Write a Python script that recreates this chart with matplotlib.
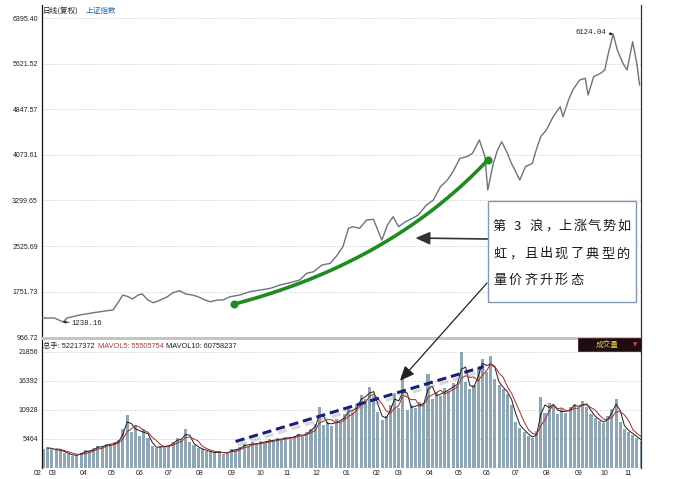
import numpy as np
import pandas as pd
import matplotlib
matplotlib.use('Agg')
import matplotlib.pyplot as plt
from matplotlib.patches import Rectangle, ConnectionPatch
import matplotlib.transforms as mtransforms
import matplotlib.patheffects as pe

plt.rcParams['font.family'] = ['Liberation Sans', 'Noto Sans CJK SC', 'DejaVu Sans']

# ---------------- data ----------------
price_ticks = [966.72, 1751.73, 2525.69, 3299.65, 4073.61, 4847.57, 5621.52, 6395.40]
price_tick_labels = ['966.72', '1751.73', '2525.69', '3299.65', '4073.61',
                     '4847.57', '5621.52', '6395.40']
vol_ticks = [5464, 10928, 16392, 21856]
vol_tick_labels = ['5464', '10928', '16392', '21856']

month_labels = ['02', '03', '04', '05', '06', '07', '08', '09', '10', '11', '12',
                '01', '02', '03', '04', '05', '06', '07', '08', '09', '10', '11']
month_pos = [-3, 8, 30, 50, 70, 91, 113, 136, 157, 176, 197,
             219, 240, 256, 278, 299, 319, 340, 362, 385, 404, 421]

# trading-day index and close of the Shanghai index
price_day = [0, 9, 15, 18, 27, 37, 47, 51, 55, 58, 62, 65, 69, 72, 76, 80, 85, 90,
             94, 99, 103, 108, 112, 117, 121, 126, 130, 135, 142, 149, 157, 164,
             171, 178, 185, 190, 195, 201, 207, 212, 216, 220, 223, 228, 233, 238,
             241, 244, 248, 252, 256, 261, 266, 270, 276, 281, 286, 291, 295, 300,
             305, 309, 314, 318, 320, 324, 327, 330, 334, 337, 343, 347, 352, 354,
             358, 362, 367, 372, 374, 378, 381, 386, 390, 392, 396, 401, 404, 406,
             410, 413, 417, 420, 424, 427, 429]
price_close = [1306, 1306, 1238.16, 1306, 1357, 1396, 1430, 1442, 1582, 1696, 1667,
               1628, 1696, 1713, 1611, 1565, 1611, 1667, 1735, 1769, 1713, 1696,
               1667, 1611, 1582, 1611, 1611, 1667, 1696, 1752, 1781, 1810, 1866,
               1905, 1951, 2064, 2091, 2205, 2234, 2375, 2515, 2828, 2855, 2828,
               2968, 2980, 2799, 2629, 2884, 3024, 2855, 2940, 2997, 3053, 3223,
               3308, 3533, 3647, 3788, 4015, 4042, 4100, 4326, 4042, 3477, 3930,
               4156, 4297, 4105, 3930, 3647, 3873, 3930, 4100, 4382, 4495, 4721,
               4891, 4721, 5004, 5174, 5344, 5372, 5089, 5400, 5457, 5513, 5739,
               6124.04, 5852, 5627, 5513, 5993, 5627, 5259]

# volume (one bar per 3 trading days)
volume = [3600, 3900, 3500, 3400, 3300, 2900, 2600, 2300, 2500, 2800, 3300, 3100,
          3700, 4100, 3900, 4600, 4300, 4800, 5200, 7400, 9900, 6800, 7900, 6100,
          7300, 5600, 4100, 3700, 4200, 3900, 4400, 4800, 5600, 5200, 7400, 4900,
          4300, 3700, 3500, 3200, 3000, 2800, 3100, 2700, 2900, 3600, 3300, 3900,
          4500, 4200, 4800, 4300, 5100, 4700, 5400, 5000, 5600, 5300, 5900, 5500,
          6100, 6400, 5900, 6800, 7300, 8200, 11500, 8000, 8700, 7900, 9200, 8600,
          10200, 11000, 10600, 12000, 13800, 12900, 15200, 13500, 10500, 9000, 9800, 11900,
          14000, 11200, 17400, 10800, 11900, 11300, 12400, 11800, 17700, 13000, 14200, 13500,
          15000, 14400, 16000, 15400, 21700, 16200, 14800, 15600, 18800, 20500, 18000, 21000,
          16800, 15500, 14800, 13900, 11800, 8600, 7600, 6800, 6000, 5600, 6900, 13300,
          10400, 12300, 11600, 10200, 11000, 10300, 11500, 12000, 11200, 12600, 11500, 10100,
          9400, 8800, 8500, 9700, 11000, 13000, 8600, 7300, 6800, 6200, 5600, 5000]
vol_day = np.arange(len(volume)) * 3

# ---------------- figure ----------------
W, H = 673, 479
fig = plt.figure(figsize=(W / 100, H / 100), dpi=100)
fig.patch.set_facecolor('white')


def fx(x):
    return x / W


def fy(y):
    return 1 - y / H


ax = fig.add_axes([fx(42), fy(338), (641 - 42) / W, (338 - 5) / H])
vax = fig.add_axes([fx(42), fy(468), (641 - 42) / W, (468 - 339) / H])

grid_kw = dict(linestyle=(0, (1, 2)), color='#b4b4b4', linewidth=0.6)

# ---- price panel ----
ax.plot(price_day, price_close, color='#6b747c', lw=1.0, zorder=3)
ax.set_xlim(0, 430)
ax.set_ylim(966.72, 6616)
ax.set_yticks(price_ticks)
ax.set_yticklabels(price_tick_labels)
ax.set_xticks([])
ax.yaxis.grid(True, **grid_kw)
ax.tick_params(axis='y', length=0, pad=3, labelsize=5, labelcolor='#202020')
for s in ['top', 'bottom']:
    ax.spines[s].set_visible(False)
ax.spines['left'].set_color('#111111')
ax.spines['left'].set_linewidth(0.9)
ax.spines['right'].set_color('#333333')
ax.spines['right'].set_linewidth(0.9)

# min / max labels
imin = int(np.argmin(price_close))
imax = int(np.argmax(price_close))
ax.annotate(f'{price_close[imin]:.2f}', xy=(price_day[imin], price_close[imin]),
            xytext=(6.5, -0.8), textcoords='offset points', fontsize=5.3,
            family='Liberation Mono', ha='left', va='center', color='#202020',
            arrowprops=dict(arrowstyle='-|>', lw=0.6, color='#202020',
                            mutation_scale=4, shrinkA=0, shrinkB=0))
ax.annotate(f'{price_close[imax]:.2f}', xy=(price_day[imax], price_close[imax]),
            xytext=(-5, 0.8), textcoords='offset points', fontsize=5.3,
            family='Liberation Mono', ha='right', va='center', color='#202020',
            arrowprops=dict(arrowstyle='-|>', lw=0.6, color='#202020',
                            mutation_scale=4, shrinkA=0, shrinkB=0))

# green wave-3 curve (quadratic Bezier between two anchor points)
p0 = np.array([138, 1543.0])
p1 = np.array([250, 2236.0])
p2 = np.array([320, 3986.0])
t = np.linspace(0, 1, 80)[:, None]
curve = (1 - t) ** 2 * p0 + 2 * (1 - t) * t * p1 + t ** 2 * p2
ax.plot(curve[:, 0], curve[:, 1], color='#1e8c1e', lw=2.6,
        solid_capstyle='round', zorder=4)
ax.plot([p0[0], p2[0]], [p0[1], p2[1]], 'o', ms=4.8, color='#1e8c1e', zorder=5)

# horizontal arrow from the text box to the curve
ax.annotate('', xy=(268, 2663), xycoords='data',
            xytext=(fx(488), fy(239)), textcoords='figure fraction',
            arrowprops=dict(arrowstyle='-|>,head_length=0.8,head_width=0.35',
                            color='#333333', lw=1.2, shrinkA=0, shrinkB=0,
                            mutation_scale=11))

# ---- volume panel ----
vax.bar(vol_day, volume, width=2.2, align='edge', color='#8fa6b4',
        edgecolor='none', zorder=2)
vs = pd.Series(volume, dtype=float)
ma_a = vs.rolling(2).mean()
ma_b = vs.rolling(4).mean()
vax.plot(vol_day + 1.1, ma_a, color='#1a1a1a', lw=0.7, zorder=3)
vax.plot(vol_day + 1.1, ma_b, color='#a52a2a', lw=0.7, zorder=3)
vax.set_xlim(0, 430)
vax.set_ylim(0, 24226)
vax.set_yticks(vol_ticks)
vax.set_yticklabels(vol_tick_labels)
vax.set_xticks([])
vax.yaxis.grid(True, **grid_kw)
vax.set_axisbelow(True)
vax.tick_params(axis='y', length=0, pad=3, labelsize=5, labelcolor='#202020')
for s in ['top', 'bottom']:
    vax.spines[s].set_visible(False)
vax.spines['left'].set_color('#111111')
vax.spines['left'].set_linewidth(0.9)
vax.spines['right'].set_color('#333333')
vax.spines['right'].set_linewidth(0.9)

blend = mtransforms.blended_transform_factory(vax.transData, vax.transAxes)
for lbl, pos in zip(month_labels, month_pos):
    vax.text(pos, -0.039, lbl, transform=blend, ha='center', va='center',
             fontsize=5, color='#202020', clip_on=False)

# blue dashed trend line over volume
vax.plot([139, 317], [4974, 19028], color='#1a1f7a', lw=2.2,
         linestyle=(0, (3, 1.6)), zorder=5,
         path_effects=[pe.SimpleLineShadow(offset=(1.5, -2.5),
                                           shadow_color='#909090', alpha=0.35),
                       pe.Normal()])

# ---- decorations ----
fig.add_artist(Rectangle((fx(42), fy(339.8)), (641 - 42) / W, 2.6 / H,
                         transform=fig.transFigure, color='#c4c4c4', lw=0))

fig.text(fx(43), fy(10.5), '日线(复权)', fontsize=5.5, color='#202020',
         va='center', ha='left', family=['Noto Sans CJK SC', 'DejaVu Sans'])
fig.text(fx(86), fy(10.5), '上证指数', fontsize=5.5, color='#2f5f9f',
         va='center', ha='left', family=['Noto Sans CJK SC', 'DejaVu Sans'])

renderer = fig.canvas.get_renderer()
xpix = 43
for s, c in [('总手: 52217372', '#202020'), ('MAVOL5: 55505754', '#b03a3a'),
             ('MAVOL10: 60758237', '#202020')]:
    tt = fig.text(fx(xpix), fy(346), s, fontsize=5.3, color=c, va='center',
                  ha='left')
    bb = tt.get_window_extent(renderer)
    xpix = bb.x1 + 3

# 成交量 button
fig.add_artist(Rectangle((fx(578), fy(351)), 63 / W, 13 / H,
                         transform=fig.transFigure, facecolor='#1e0c12',
                         edgecolor='#4a2020', lw=0.6))
fig.text(fx(607), fy(344.5), '成交量', fontsize=5.5, color='#e6d24a',
         ha='center', va='center', family=['Noto Sans CJK SC', 'DejaVu Sans'])
fig.text(fx(635), fy(344.5), '▼', fontsize=4, color='#e03a5a',
         ha='center', va='center', family='DejaVu Sans')

# annotation text box
fig.add_artist(Rectangle((fx(488), fy(302)), (636 - 488) / W, (302 - 201) / H,
                         transform=fig.transFigure, facecolor='white',
                         edgecolor='#8398b0', lw=1.0, zorder=5))

cjk = ['Noto Sans CJK SC', 'DejaVu Sans']
lines = [list('第 3 浪，上涨气势如'), list('虹，且出现了典型的'), list('量价齐升形态')]
line_y = [225, 252.5, 279]
x_start, x_end = 492, 631
full_unit = (x_end - x_start) / 9.0
for li, (chars, yc) in enumerate(zip(lines, line_y)):
    weights = [0.5 if (ch == ' ' or ch.isdigit()) else 1.0 for ch in chars]
    if li == 0:
        unit = (x_end - x_start) / sum(weights)
    else:
        unit = full_unit
    cum = 0.0
    for ch, w in zip(chars, weights):
        left = x_start + cum * unit
        cum += w
        if ch == ' ':
            continue
        if ch == '，':
            fig.text(fx(left + 0.12 * unit), fy(yc + 5), ch, fontsize=9.5,
                     color='#1a1a1a', ha='left', va='baseline', family=cjk,
                     zorder=6)
        else:
            fig.text(fx(left + w * unit / 2), fy(yc + 5), ch, fontsize=9.5,
                     color='#1a1a1a', ha='center', va='baseline', family=cjk,
                     zorder=6)

# diagonal arrow from the text box into the volume panel
cp = ConnectionPatch(xyA=(fx(487), fy(283)), coordsA='figure fraction',
                     xyB=(257, 16390), coordsB=vax.transData,
                     arrowstyle='-|>,head_length=0.8,head_width=0.35',
                     mutation_scale=11, color='#222222', lw=0.9,
                     shrinkA=0, shrinkB=0, zorder=6)
fig.add_artist(cp)

fig.savefig('out.png', dpi=100, facecolor='white')
